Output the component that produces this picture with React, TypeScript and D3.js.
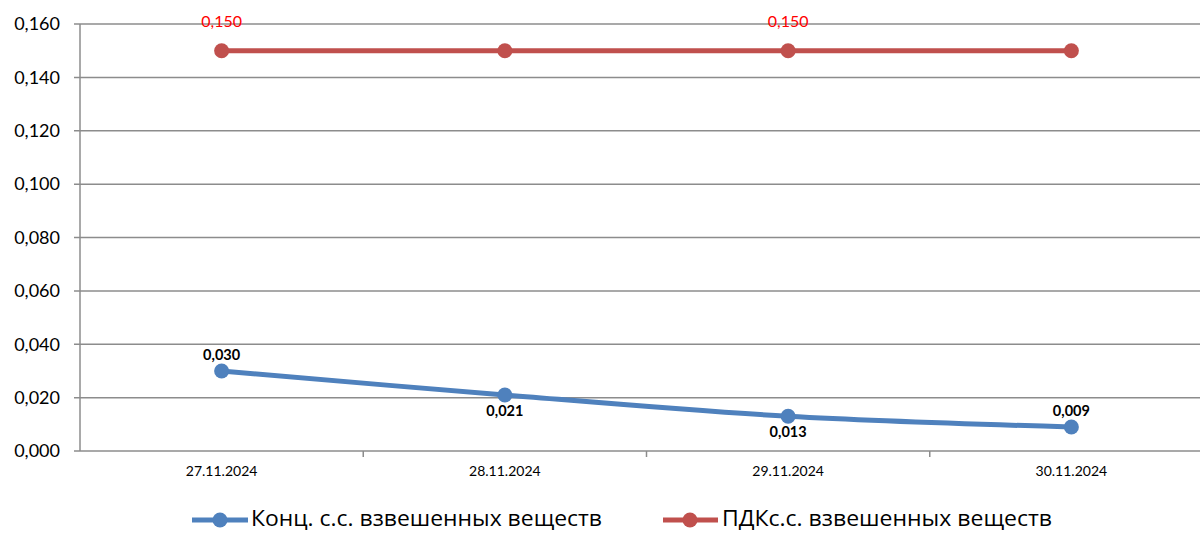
import React from "react";
import * as d3 from "d3";

const categories = ["27.11.2024", "28.11.2024", "29.11.2024", "30.11.2024"];
const concValues = [0.03, 0.021, 0.013, 0.009];
const pdkValues = [0.15, 0.15, 0.15, 0.15];
const yTicks = [0, 0.02, 0.04, 0.06, 0.08, 0.1, 0.12, 0.14, 0.16];
const concName = "Конц. с.с. взвешенных веществ";
const pdkName = "ПДКс.с. взвешенных веществ";
const pdkLabelShown = [true, false, true, false];
const concLabelAbove = [true, false, false, true];

const BLUE = "#4F81BD";
const RED = "#C0504D";
const GRID = "#8c8c8c";
const FONT = "Lato, 'Open Sans', sans-serif";
const LEGEND_FONT = "'Open Sans', Lato, sans-serif";

export default function App() {
  const W = 1200, H = 533;
  const left = 80, right = 1213, top = 24, bottom = 451;
  const x = d3.scaleBand<string>().domain(categories).range([left, right]).padding(0);
  const y = d3.scaleLinear().domain([0, 0.16]).range([bottom, top]);
  const cx = (c: string) => (x(c) as number) + x.bandwidth() / 2;
  const fmt = (v: number) => v.toFixed(3).replace(".", ",");

  const line = d3
    .line<number>()
    .x((_, i) => cx(categories[i]))
    .y((d) => y(d))
    .curve(d3.curveCatmullRom.alpha(0.5));

  return (
    <svg width={W} height={H} style={{ display: "block", position: "absolute", left: 0, top: 0 }} fontFamily={FONT}>
      <rect width={W} height={H} fill="#fff" />
      {yTicks.map((t) => (
        <g key={t}>
          <line x1={left - 6} x2={right} y1={y(t)} y2={y(t)} stroke={GRID} strokeWidth={1.5} />
          <text x={60} y={y(t)} dy="0.35em" textAnchor="end" fontSize={18} fill="#000">
            {fmt(t)}
          </text>
        </g>
      ))}
      <line x1={left} x2={left} y1={top} y2={bottom} stroke={GRID} strokeWidth={1.5} />
      {categories.slice(1).map((c) => (
        <line key={c} x1={x(c)} x2={x(c)} y1={bottom} y2={bottom + 6} stroke={GRID} strokeWidth={1.5} />
      ))}
      {categories.map((c) => (
        <text key={c} x={cx(c)} y={476} textAnchor="middle" fontSize={14} fill="#000">
          {c}
        </text>
      ))}
      <path d={line(pdkValues) || ""} fill="none" stroke={RED} strokeWidth={5} />
      {pdkValues.map((v, i) => (
        <circle key={i} cx={cx(categories[i])} cy={y(v)} r={7.5} fill={RED} />
      ))}
      {pdkValues.map((v, i) =>
        pdkLabelShown[i] ? (
          <text key={i} x={cx(categories[i])} y={y(v) - 24} textAnchor="middle" fontSize={16} fill="#FF0000">
            {fmt(v)}
          </text>
        ) : null
      )}
      <path d={line(concValues) || ""} fill="none" stroke={BLUE} strokeWidth={5} />
      {concValues.map((v, i) => (
        <circle key={i} cx={cx(categories[i])} cy={y(v)} r={7.5} fill={BLUE} />
      ))}
      {concValues.map((v, i) => (
        <text
          key={i}
          x={cx(categories[i])}
          y={concLabelAbove[i] ? y(v) - 11 : y(v) + 21}
          textAnchor="middle"
          fontSize={14.5}
          fontWeight="bold"
          fill="#000"
        >
          {fmt(v)}
        </text>
      ))}
      <g fontFamily={LEGEND_FONT}>
        <line x1={192} x2={248} y1={520} y2={520} stroke={BLUE} strokeWidth={5} />
        <circle cx={220} cy={520} r={7.5} fill={BLUE} />
        <text x={251} y={526} fontSize={21} fill="#000" textLength={351} lengthAdjust="spacingAndGlyphs">{concName}</text>
        <line x1={663} x2={718} y1={520} y2={520} stroke={RED} strokeWidth={5} />
        <circle cx={690} cy={520} r={7.5} fill={RED} />
        <text x={722} y={526} fontSize={21} fill="#000" textLength={330} lengthAdjust="spacingAndGlyphs">{pdkName}</text>
      </g>
    </svg>
  );
}
